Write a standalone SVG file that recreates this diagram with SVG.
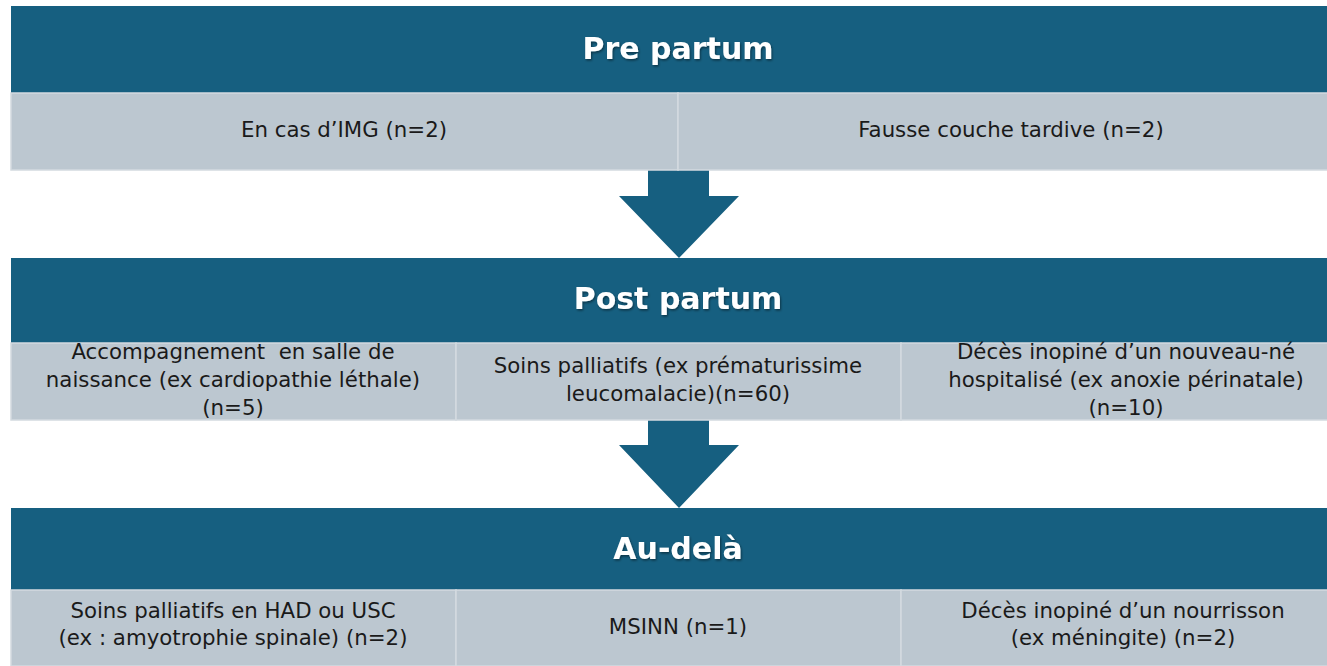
<svg xmlns="http://www.w3.org/2000/svg" width="1327" height="666" viewBox="0 0 1327 666">
<defs>
<style>
.hdr{fill:#165F80}
.cell{fill:#BCC7D0;stroke:#D3DAE0;stroke-width:1.5}
.arrow{fill:#165F80}
.ht{font-family:"DejaVu Sans",Arial,sans-serif;font-weight:bold;font-size:30px;fill:#ffffff;text-anchor:middle;filter:url(#sh)}
.ct{font-family:"DejaVu Sans",Arial,sans-serif;font-size:21.3px;fill:#1a1a1a;text-anchor:middle;white-space:pre}
</style>
<filter id="sh" x="-10%" y="-30%" width="120%" height="160%">
<feDropShadow dx="1" dy="1.5" stdDeviation="1" flood-color="#000" flood-opacity="0.45"/>
</filter>
</defs>
<rect width="1327" height="666" fill="#ffffff"/>

<g id="connectors">
<polygon class="arrow" points="648,170 709,170 709,196 739,196 679,258 619,196 648,196"/>
<polygon class="arrow" points="648,420 709,420 709,445 739,445 679,508 619,445 648,445"/>
</g>

<g id="pre-partum">
<rect class="hdr" x="11" y="6" width="1334" height="87"/>
<text class="ht" x="678" y="59">Pre partum</text>
</g>
<g id="img">
<rect class="cell" x="11" y="93" width="667" height="77"/>
<text class="ct" x="344" y="137">En cas d’IMG (n=2)</text>
</g>
<g id="fausse-couche">
<rect class="cell" x="678" y="93" width="667" height="77"/>
<text class="ct" x="1011" y="137">Fausse couche tardive (n=2)</text>
</g>

<g id="post-partum">
<rect class="hdr" x="11" y="258" width="1334" height="85"/>
<text class="ht" x="678" y="309">Post partum</text>
</g>
<g id="salle-naissance">
<rect class="cell" x="11" y="343" width="445" height="77"/>
<text class="ct" x="233" y="359">Accompagnement  en salle de</text>
<text class="ct" x="233" y="387">naissance (ex cardiopathie léthale)</text>
<text class="ct" x="233" y="415">(n=5)</text>
</g>
<g id="soins-palliatifs">
<rect class="cell" x="456" y="343" width="445" height="77"/>
<text class="ct" x="678" y="373">Soins palliatifs (ex prématurissime</text>
<text class="ct" x="678" y="401">leucomalacie)(n=60)</text>
</g>
<g id="deces-nouveau-ne">
<rect class="cell" x="901" y="343" width="444" height="77"/>
<text class="ct" x="1126" y="359">Décès inopiné d’un nouveau-né</text>
<text class="ct" x="1126" y="387">hospitalisé (ex anoxie périnatale)</text>
<text class="ct" x="1126" y="415">(n=10)</text>
</g>

<g id="au-dela">
<rect class="hdr" x="11" y="508" width="1334" height="82"/>
<text class="ht" x="678" y="559">Au-delà</text>
</g>
<g id="had-usc">
<rect class="cell" x="11" y="590" width="445" height="76"/>
<text class="ct" x="233" y="618">Soins palliatifs en HAD ou USC</text>
<text class="ct" x="233" y="645">(ex : amyotrophie spinale) (n=2)</text>
</g>
<g id="msinn">
<rect class="cell" x="456" y="590" width="445" height="76"/>
<text class="ct" x="678" y="634">MSINN (n=1)</text>
</g>
<g id="deces-nourrisson">
<rect class="cell" x="901" y="590" width="444" height="76"/>
<text class="ct" x="1123" y="618">Décès inopiné d’un nourrisson</text>
<text class="ct" x="1123" y="645">(ex méningite) (n=2)</text>
</g>
</svg>
